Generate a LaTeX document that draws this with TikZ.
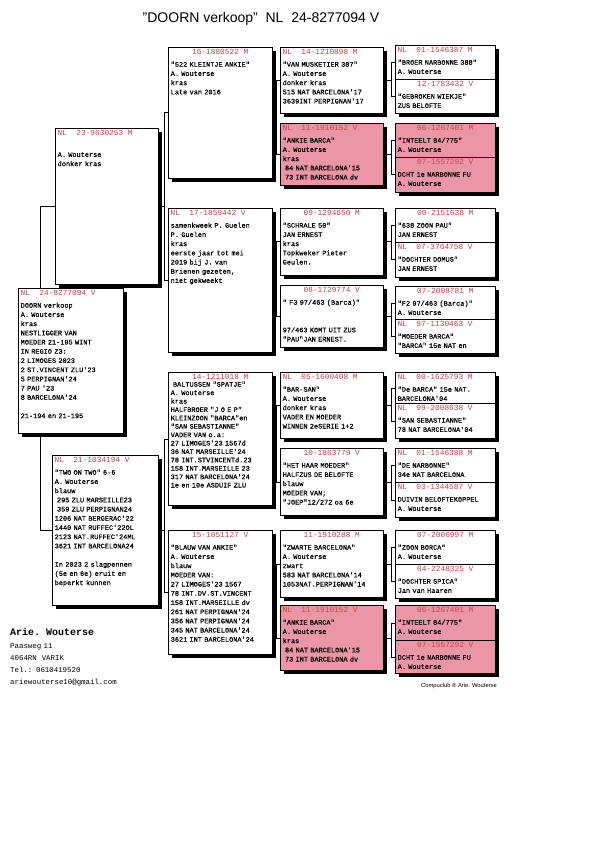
\documentclass[tikz,border=0pt]{standalone}
\usepackage{fontspec}
\setmonofont{Liberation Mono}
\setsansfont{Liberation Sans}
\newfontfamily\duiffont[FakeBold=0.4]{Liberation Mono}
\usetikzlibrary{shadows,backgrounds}

\definecolor{kopkleur}{RGB}{200,64,72}
\definecolor{duifroze}{RGB}{234,150,166}

\tikzset{
  duifbox/.style={draw=black, line width=0.5pt, fill=white, inner sep=0pt,
    drop shadow={shadow xshift=3.5pt, shadow yshift=-3.5pt, opacity=1, fill=black}},
  roze/.style={fill=duifroze},
  kop/.style={font=\ttfamily\fontsize{7.8}{9}\selectfont, text=kopkleur, inner sep=0pt},
  tekst/.style={font=\duiffont\fontsize{6.9}{9.2}\selectfont, text width=130pt,
    align=left, inner sep=0pt},
  lijn/.style={black, line width=0.5pt},
}

% box, header (left / centred) and text of one pigeon
\newcommand\hok[6]{\node[duifbox,#6,minimum width=#4pt,minimum height=#5pt,
  anchor=north west] (#1) at (#2,#3) {};}
\newcommand\kopl[2]{\node[kop,anchor=base west] (#1-kop)
  at ([shift={(2.5,7.6)}]#1.north west) {#2};}
\newcommand\kopm[2]{\node[kop,anchor=base] (#1-kop)
  at ([shift={(0,7.6)}]#1.north) {#2};}
\newcommand\inhoud[3][]{\node[tekst,#1,anchor=base west] (#2-tekst)
  at ([shift={(2.5,19.7)}]#2.north west) {#3};}
% parent to its two parents
\newcommand\tak[3]{%
  \draw[lijn] (#2.west) -- ++(-3.5,0) coordinate (#1-t) |- (#3.west);
  \draw[lijn] (#1.east) -- (#1.east -| #1-t);}

\begin{document}
\begin{tikzpicture}[x=1pt,y=-1pt]
  \useasboundingbox (0,0) rectangle (600,858);

  % title
  \node[font=\sffamily\fontsize{14}{16}\selectfont] (titel) at (261,19)
    {"DOORN verkoop"~~NL~~24-8277094 V};

  % parents
  \hok{vader}{55}{128}{103}{156}{}
  \kopl{vader}{NL~~23-9630253 M}
  \inhoud{vader}{\mbox{}\\A. Wouterse\\donker kras}

  \hok{moeder}{52}{455}{106}{150}{}
  \kopl{moeder}{NL~~21-1034194 V}
  \inhoud{moeder}{"TWO ON TWO" 6-6\\A. Wouterse\\blauw\\~295 ZLU MARSEILLE23\\
    ~359 ZLU PERPIGNAN24\\1206 NAT BERGERAC'22\\1440 NAT RUFFEC'22OL\\
    2123 NAT.RUFFEC'24ML\\3621 INT BARCELONA24\\\mbox{}\\In 2023 2 slagpennen\\
    (5e en 6e) eruit en\\beperkt kunnen}

  % the pigeon itself
  \hok{jong}{18}{288}{105}{145}{}
  \kopl{jong}{NL~~24-8277094 V}
  \inhoud{jong}{DOORN verkoop\\A. Wouterse\\kras\\NESTLIGGER VAN\\MOEDER 21-195 WINT\\
    IN REGIO Z3:\\2 LIMOGES 2023\\2 ST.VINCENT ZLU'23\\5 PERPIGNAN'24\\7 PAU '23\\
    8 BARCELONA'24\\\mbox{}\\21-194 en 21-195}

  % grandparents
  \hok{gv}{168}{47}{104}{131}{}
  \kopm{gv}{16-1880522 M}
  \inhoud{gv}{"522 KLEINTJE ANKIE"\\A. Wouterse\\kras\\Late van 2016}

  \hok{gm}{168}{208}{104}{144}{}
  \kopl{gm}{NL~~17-1859442 V}
  \inhoud{gm}{samenkweek P. Guelen\\P. Guelen\\kras\\eerste jaar tot mei\\
    2019 bij J. van\\Brienen gezeten,\\niet gekweekt}

  \hok{mv}{168}{372}{104}{133}{}
  \kopm{mv}{14-1211018 M}
  \inhoud[font=\duiffont\fontsize{6.9}{8.4}\selectfont, yshift=5pt]{mv}{%
    ~BALTUSSEN "SPATJE"\\A. Wouterse\\kras\\HALFBROER "J O E P"\\
    KLEINZOON "BARCA"en\\"SAN SEBASTIANNE"\\VADER VAN o.a:\\27 LIMOGES'23 1567d\\
    36 NAT MARSEILLE'24\\78 INT.STVINCENTd.23\\158 INT.MARSEILLE 23\\
    317 NAT BARCELONA'24\\1e en 10e ASDUIF ZLU}

  \hok{mm}{168}{530}{104}{124}{}
  \kopm{mm}{15-1051127 V}
  \inhoud{mm}{"BLAUW VAN ANKIE"\\A. Wouterse\\blauw\\MOEDER VAN:\\27 LIMOGES'23 1567\\
    78 INT.DV.ST.VINCENT\\158 INT.MARSEILLE dv\\261 NAT PERPIGNAN'24\\
    356 NAT PERPIGNAN'24\\345 NAT BARCELONA'24\\3621 INT BARCELONA'24}

  % great-grandparents
  \hok{gvv}{280}{47}{103}{66}{}
  \kopl{gvv}{NL~~14-1210898 M}
  \inhoud{gvv}{"VAN MUSKETIER 387"\\A. Wouterse\\donker kras\\515 NAT BARCELONA'17\\
    3639INT PERPIGNAN'17}

  \hok{gvm}{280}{123}{103}{62}{roze}
  \kopl{gvm}{NL~~11-1910152 V}
  \inhoud{gvm}{"ANKIE BARCA"\\A. Wouterse\\kras\\~84 NAT BARCELONA'15\\~73 INT BARCELONA dv}

  \hok{gmv}{280}{208}{103}{67}{}
  \kopm{gmv}{09-1294650 M}
  \inhoud{gmv}{"SCHRALE 50"\\JAN ERNEST\\kras\\Topkweker Pieter\\Geulen.}

  \hok{gmm}{280}{285}{103}{62}{}
  \kopm{gmm}{08-1729774 V}
  \inhoud{gmm}{"~F3 97/463 (Barca)"\\\mbox{}\\\mbox{}\\97/463 KOMT UIT ZUS\\"PAU"JAN ERNEST.}

  \hok{mvv}{280}{372}{103}{66}{}
  \kopl{mvv}{NL~~05-1600408 M}
  \inhoud{mvv}{"BAR-SAN"\\A. Wouterse\\donker kras\\VADER EN MOEDER\\WINNEN 2eSERIE 1+2}

  \hok{mvm}{280}{448}{103}{67}{}
  \kopm{mvm}{10-1863779 V}
  \inhoud{mvm}{"HET HAAR MOEDER"\\HALFZUS DE BELOFTE\\blauw\\MOEDER VAN;\\"JOEP"12/272 oa 6e}

  \hok{mmv}{280}{530}{103}{67}{}
  \kopm{mmv}{11-1910288 M}
  \inhoud{mmv}{"ZWARTE BARCELONA"\\A. Wouterse\\zwart\\583 NAT BARCELONA'14\\
    1053NAT.PERPIGNAN'14}

  \hok{mmm}{280}{605}{103}{65}{roze}
  \kopl{mmm}{NL~~11-1910152 V}
  \inhoud{mmm}{"ANKIE BARCA"\\A. Wouterse\\kras\\~84 NAT BARCELONA'15\\~73 INT BARCELONA dv}

  % great-great-grandparents (pairs)
  \hok{p1v}{395}{45}{100}{34}{}
  \kopl{p1v}{NL~~01-1546387 M}
  \inhoud{p1v}{"BROER NARBONNE 388"\\A. Wouterse}
  \hok{p1m}{395}{79}{100}{34}{}
  \kopm{p1m}{12-1783432 V}
  \inhoud{p1m}{"GEBROKEN WIEKJE"\\ZUS BELOFTE}

  \hok{p2v}{395}{123}{100}{34}{roze}
  \kopm{p2v}{06-1267401 M}
  \inhoud{p2v}{"INTEELT 84/775"\\A. Wouterse}
  \hok{p2m}{395}{157}{100}{35}{roze}
  \kopm{p2m}{07-1557292 V}
  \inhoud{p2m}{DCHT 1e NARBONNE FU\\A. Wouterse}

  \hok{p3v}{395}{208}{100}{34}{}
  \kopm{p3v}{00-2151638 M}
  \inhoud{p3v}{"638 ZOON PAU"\\JAN ERNEST}
  \hok{p3m}{395}{242}{100}{35}{}
  \kopl{p3m}{NL~~07-3764758 V}
  \inhoud{p3m}{"DOCHTER DOMUS"\\JAN ERNEST}

  \hok{p4v}{395}{286}{100}{33}{}
  \kopm{p4v}{07-2008781 M}
  \inhoud{p4v}{"F2 97/463 (Barca)"\\A. Wouterse}
  \hok{p4m}{395}{319}{100}{34}{}
  \kopl{p4m}{NL~~97-1130463 V}
  \inhoud{p4m}{"MOEDER BARCA"\\"BARCA" 15e NAT en}

  \hok{p5v}{395}{372}{100}{31}{}
  \kopl{p5v}{NL~~00-1625793 M}
  \inhoud{p5v}{"De BARCA" 15e NAT.\\BARCELONA'04}
  \hok{p5m}{395}{403}{100}{35}{}
  \kopl{p5m}{NL~~99-2008638 V}
  \inhoud{p5m}{"SAN SEBASTIANNE"\\78 NAT BARCELONA'04}

  \hok{p6v}{395}{448}{100}{34}{}
  \kopl{p6v}{NL~~01-1546388 M}
  \inhoud{p6v}{"DE NARBONNE"\\34e NAT BARCELONA}
  \hok{p6m}{395}{482}{100}{35}{}
  \kopl{p6m}{NL~~03-1344587 V}
  \inhoud{p6m}{DUIVIN BELOFTEKOPPEL\\A. Wouterse}

  \hok{p7v}{395}{530}{100}{34}{}
  \kopm{p7v}{07-2006997 M}
  \inhoud{p7v}{"ZOON BORCA"\\A. Wouterse}
  \hok{p7m}{395}{564}{100}{34}{}
  \kopm{p7m}{04-2248325 V}
  \inhoud{p7m}{"DOCHTER SPICA"\\Jan van Haaren}

  \hok{p8v}{395}{605}{100}{35}{roze}
  \kopm{p8v}{06-1267401 M}
  \inhoud{p8v}{"INTEELT 84/775"\\A. Wouterse}
  \hok{p8m}{395}{640}{100}{33}{roze}
  \kopm{p8m}{07-1557292 V}
  \inhoud{p8m}{DCHT 1e NARBONNE FU\\A. Wouterse}

  % breeder
  \node[font=\ttfamily\bfseries\fontsize{10}{12}\selectfont, anchor=base west, inner sep=0pt]
    (kweker) at (10,635) {Arie. Wouterse};
  \node[font=\ttfamily\fontsize{7.4}{12}\selectfont, text width=150pt, align=left,
    inner sep=0pt, anchor=base west] (adres) at (10,648)
    {Paasweg 11\\4064RN~~VARIK\\Tel.: 0610419520\\ariewouterse10@gmail.com};
  \node[font=\sffamily\fontsize{5.8}{7}\selectfont, inner sep=0pt] (compuclub) at (459,686)
    {Compuclub ® Arie. Wouterse};

  % connectors, behind the boxes
  \begin{scope}[on background layer]
    \fill[white] (0,0) rectangle (600,858);
    \draw[lijn] (vader.west) -- ++(-15,0) coordinate (jong-t) |- (moeder.west);
    \foreach \o/\a/\b in {vader/gv/gm, moeder/mv/mm,
        gv/gvv/gvm, gm/gmv/gmm, mv/mvv/mvm, mm/mmv/mmm,
        gvv/p1v/p1m, gvm/p2v/p2m, gmv/p3v/p3m, gmm/p4v/p4m,
        mvv/p5v/p5m, mvm/p6v/p6m, mmv/p7v/p7m, mmm/p8v/p8m}
      \tak{\o}{\a}{\b};
  \end{scope}

\end{tikzpicture}
\end{document}
